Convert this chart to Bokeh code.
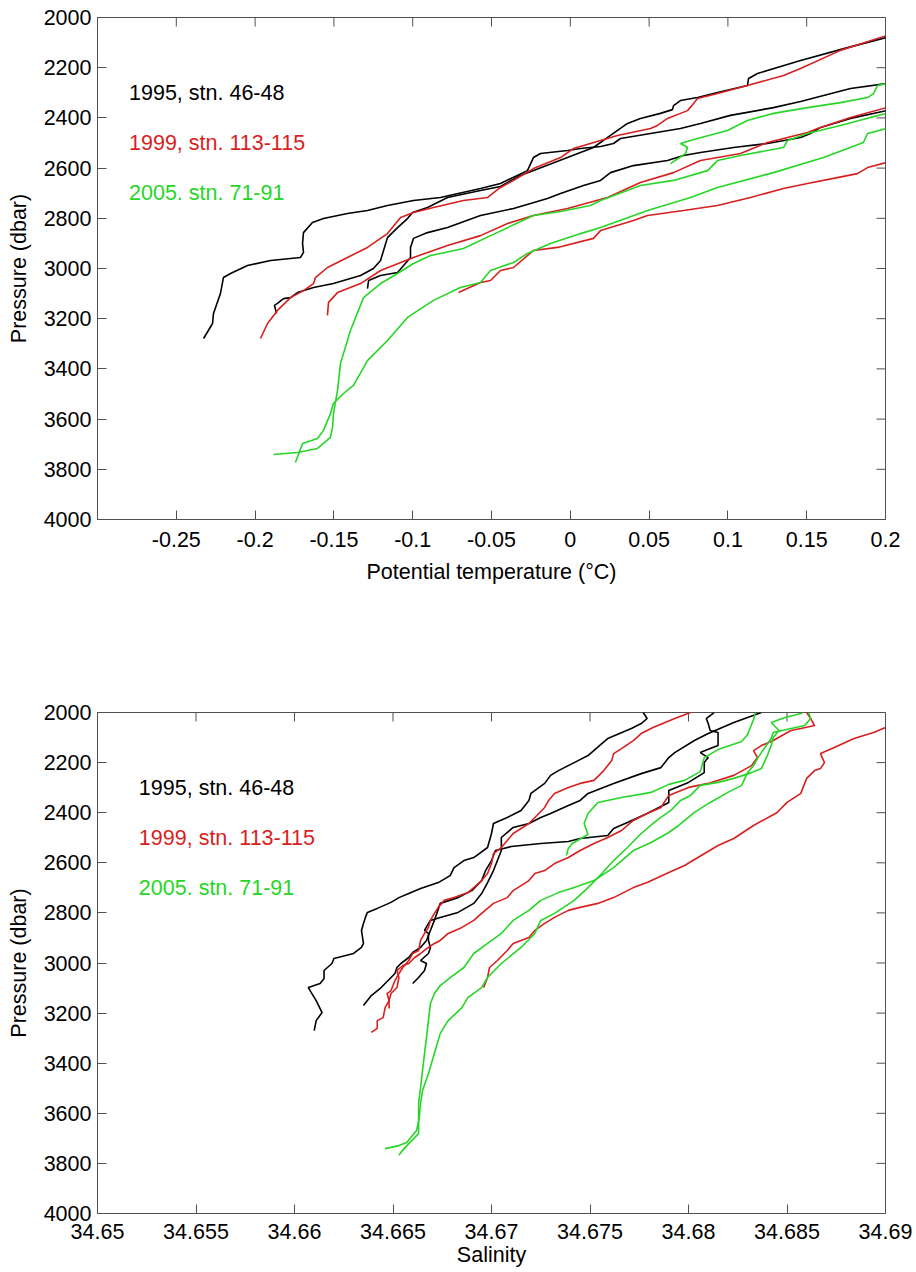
import math
from bokeh.plotting import figure
from bokeh.layouts import column
from bokeh.models import Range1d, FixedTicker, CustomJSTickFormatter
from bokeh.core.properties import value
from bokeh.embed import file_html
from bokeh.resources import INLINE

# ---------------- data ----------------
pres_ticks = [2000, 2200, 2400, 2600, 2800, 3000, 3200, 3400, 3600, 3800, 4000]
pres_tick_labels = ["2000", "2200", "2400", "2600", "2800", "3000", "3200", "3400", "3600", "3800", "4000"]
temp_ticks = [-0.25, -0.2, -0.15, -0.1, -0.05, 0.0, 0.05, 0.1, 0.15, 0.2]
temp_tick_labels = ["-0.25", "-0.2", "-0.15", "-0.1", "-0.05", "0", "0.05", "0.1", "0.15", "0.2"]
sal_ticks = [34.65, 34.655, 34.66, 34.665, 34.67, 34.675, 34.68, 34.685, 34.69]
sal_tick_labels = ["34.65", "34.655", "34.66", "34.665", "34.67", "34.675", "34.68", "34.685", "34.69"]

legend_labels = ["1995, stn. 46-48", "1999, stn. 113-115", "2005. stn. 71-91"]
legend_pres = [2300, 2500, 2700]

# --- potential temperature (deg C) profiles and their pressures (dbar) ---
th_1995_a = [-0.2327, -0.2270, -0.2264, -0.2220, -0.2201, -0.2156, -0.2048, -0.1902, -0.1712, -0.1693,
             -0.1699, -0.1693, -0.1636, -0.1566, -0.1414, -0.1287, -0.1160, -0.0995, -0.0824, -0.0570,
             -0.0443, -0.0272, -0.0234, -0.0189, -0.0018, 0.0065, 0.0192, 0.0274, 0.0319, 0.0509,
             0.0699, 0.0826, 0.1016, 0.1289, 0.1461, 0.1778, 0.2006]
pth_1995_a = [3279, 3219, 3179, 3100, 3036, 3020, 2988, 2968, 2956, 2936,
              2900, 2857, 2817, 2801, 2781, 2769, 2749, 2729, 2717, 2681,
              2661, 2610, 2558, 2542, 2530, 2522, 2514, 2502, 2482, 2462,
              2442, 2422, 2390, 2359, 2335, 2283, 2263]
th_1995_b = [-0.1864, -0.1877, -0.1858, -0.1820, -0.1775, -0.1731, -0.1629, -0.1503, -0.1331, -0.1249,
             -0.1204, -0.1185, -0.1160, -0.1096, -0.1033, -0.1001, -0.0906, -0.0779, -0.0570, -0.0443,
             -0.0316, -0.0018, 0.0147, 0.0255, 0.0363, 0.0445, 0.0572, 0.0648, 0.0655, 0.0699,
             0.0807, 0.0934, 0.1124, 0.1131, 0.1188, 0.1461, 0.1759, 0.2006]
pth_1995_b = [3179, 3147, 3139, 3120, 3116, 3096, 3076, 3060, 3028, 3000,
              2968, 2928, 2877, 2837, 2801, 2777, 2757, 2717, 2689, 2673,
              2629, 2558, 2518, 2470, 2422, 2402, 2382, 2367, 2351, 2331,
              2319, 2299, 2271, 2243, 2223, 2171, 2120, 2080]
th_1995_c = [-0.1287, -0.1280, -0.1204, -0.1096, -0.1014, -0.1014, -0.0995, -0.0906, -0.0779, -0.0570,
             -0.0360, -0.0145, -0.0062, 0.0084, 0.0192, 0.0255, 0.0401, 0.0617, 0.0718, 0.0826,
             0.1036, 0.1251, 0.1461, 0.1524, 0.1588, 0.1778, 0.2006]
pth_1995_c = [3080, 3048, 3028, 3016, 2956, 2916, 2880, 2857, 2837, 2789,
              2761, 2721, 2701, 2669, 2649, 2618, 2590, 2570, 2550, 2538,
              2518, 2502, 2478, 2462, 2438, 2402, 2371]

th_1999_a = [-0.1966, -0.1921, -0.1858, -0.1775, -0.1693, -0.1629, -0.1617, -0.1541, -0.1414, -0.1287,
             -0.1160, -0.1077, -0.0995, -0.0868, -0.0678, -0.0525, -0.0443, -0.0360, -0.0234, -0.0062,
             0.0020, 0.0192, 0.0299, 0.0509, 0.0553, 0.0617, 0.0744, 0.0782, 0.0807, 0.0934,
             0.1124, 0.1353, 0.1461, 0.1714, 0.2006]
pth_1999_a = [3279, 3219, 3167, 3116, 3088, 3060, 3036, 2996, 2956, 2916,
              2861, 2797, 2777, 2757, 2729, 2717, 2677, 2649, 2602, 2558,
              2522, 2490, 2470, 2442, 2430, 2402, 2371, 2343, 2323, 2303,
              2271, 2231, 2203, 2131, 2072]
th_1999_b = [-0.1541, -0.1534, -0.1477, -0.1331, -0.1204, -0.0995, -0.0779, -0.0570, -0.0398, -0.0234,
             -0.0018, 0.0236, 0.0445, 0.0655, 0.0826, 0.1080, 0.1251, 0.1505, 0.1569, 0.1778, 0.2006]
pth_1999_b = [3187, 3135, 3096, 3060, 3008, 2956, 2908, 2869, 2821, 2789,
              2761, 2717, 2657, 2618, 2570, 2542, 2498, 2458, 2442, 2398, 2359]
th_1999_c = [-0.0709, -0.0570, -0.0506, -0.0443, -0.0360, -0.0234, -0.0081, 0.0147, 0.0192, 0.0401,
             0.0490, 0.0718, 0.0934, 0.1143, 0.1353, 0.1505, 0.1670, 0.1822, 0.1886, 0.2006]
pth_1999_c = [3096, 3056, 3048, 3008, 2996, 2928, 2916, 2880, 2849, 2809,
              2789, 2769, 2749, 2717, 2681, 2661, 2641, 2622, 2598, 2578]

th_2005_a = [-0.1883, -0.1731, -0.1604, -0.1522, -0.1509, -0.1503, -0.1477, -0.1458, -0.1395, -0.1312,
             -0.1204, -0.1096, -0.0995, -0.0887, -0.0824, -0.0678, -0.0506, -0.0234, -0.0062, 0.0128,
             0.0192, 0.0445, 0.0655, 0.0871, 0.0934, 0.1080, 0.1353, 0.1378, 0.1505, 0.1714,
             0.1905, 0.2006]
pth_2005_a = [3741, 3733, 3717, 3673, 3633, 3578, 3486, 3378, 3247, 3116,
              3060, 3020, 2980, 2948, 2940, 2920, 2869, 2789, 2773, 2749,
              2729, 2669, 2649, 2610, 2570, 2550, 2518, 2490, 2462, 2430,
              2398, 2382]
th_2005_b = [-0.1744, -0.1699, -0.1604, -0.1566, -0.1522, -0.1503, -0.1439, -0.1376, -0.1287, -0.1160,
             -0.1033, -0.0868, -0.0697, -0.0570, -0.0506, -0.0360, -0.0272, -0.0126, 0.0065, 0.0192,
             0.0490, 0.0763, 0.0934, 0.1289, 0.1607, 0.1860, 0.1886, 0.2006]
pth_2005_b = [3773, 3697, 3677, 3645, 3578, 3538, 3498, 3466, 3367, 3287,
              3195, 3127, 3076, 3056, 3008, 2976, 2940, 2900, 2861, 2837,
              2769, 2717, 2677, 2618, 2558, 2498, 2462, 2442]
th_2005_c = [0.0636, 0.0731, 0.0744, 0.0699, 0.0807, 0.0997, 0.1124, 0.1289, 0.1505, 0.1714,
             0.1886, 0.1924, 0.1949, 0.2006]
pth_2005_c = [2582, 2542, 2518, 2502, 2482, 2450, 2410, 2382, 2359, 2339,
              2319, 2303, 2271, 2263]

# --- salinity profiles and their pressures (dbar) ---
sal_1995_a = [34.6610, 34.6611, 34.6614, 34.6611, 34.6607, 34.6613, 34.6615, 34.6615, 34.6619, 34.6620,
              34.6626, 34.6630, 34.6634, 34.6635, 34.6634, 34.6635, 34.6636, 34.6637, 34.6642, 34.6649,
              34.6653, 34.6658, 34.6664, 34.6673, 34.6679, 34.6681, 34.6686, 34.6691, 34.6698, 34.6700,
              34.6701, 34.6708, 34.6715, 34.6719, 34.6720, 34.6727, 34.6730, 34.6734, 34.6742, 34.6749,
              34.6756, 34.6759, 34.6771, 34.6776, 34.6779, 34.6777]
psal_1995_a = [3270, 3230, 3198, 3150, 3098, 3082, 3062, 3030, 3002, 2982,
               2970, 2962, 2938, 2922, 2870, 2842, 2818, 2798, 2782, 2758,
               2739, 2723, 2703, 2679, 2651, 2619, 2591, 2579, 2539, 2483,
               2443, 2419, 2391, 2351, 2323, 2283, 2251, 2232, 2200, 2172,
               2124, 2104, 2064, 2044, 2024, 2000]
sal_1995_b = [34.6635, 34.6639, 34.6644, 34.6651, 34.6652, 34.6654, 34.6658, 34.6660, 34.6664, 34.6667,
              34.6669, 34.6671, 34.6674, 34.6683, 34.6690, 34.6695, 34.6697, 34.6700, 34.6702, 34.6710,
              34.6725, 34.6739, 34.6745, 34.6759, 34.6762, 34.6769, 34.6779, 34.6790, 34.6790, 34.6800,
              34.6808, 34.6808, 34.6810, 34.6806, 34.6811, 34.6815, 34.6815, 34.6815, 34.6811, 34.6810,
              34.6809, 34.6813]
psal_1995_b = [3170, 3130, 3098, 3042, 3018, 3002, 2978, 2958, 2938, 2910,
               2870, 2830, 2762, 2739, 2711, 2671, 2631, 2591, 2551, 2535,
               2523, 2515, 2503, 2491, 2463, 2439, 2403, 2359, 2311, 2279,
               2240, 2200, 2180, 2160, 2144, 2132, 2104, 2080, 2072, 2044,
               2024, 2000]
sal_1995_c = [34.6660, 34.6663, 34.6666, 34.6667, 34.6664, 34.6668, 34.6669, 34.6668, 34.6668, 34.6666,
              34.6668, 34.6669, 34.6674, 34.6683, 34.6691, 34.6695, 34.6698, 34.6701, 34.6703, 34.6705,
              34.6705, 34.6711, 34.6719, 34.6725, 34.6730, 34.6739, 34.6745, 34.6749, 34.6762, 34.6776,
              34.6786, 34.6790, 34.6793, 34.6803, 34.6810, 34.6823, 34.6830, 34.6837]
psal_1995_c = [3082, 3058, 3030, 3002, 2990, 2962, 2938, 2910, 2882, 2870,
               2842, 2830, 2818, 2798, 2762, 2723, 2679, 2631, 2591, 2551,
               2499, 2459, 2443, 2419, 2403, 2371, 2351, 2323, 2283, 2244,
               2220, 2180, 2160, 2112, 2084, 2040, 2020, 2000]

sal_1999_a = [34.6639, 34.6642, 34.6642, 34.6645, 34.6646, 34.6648, 34.6647, 34.6649, 34.6651, 34.6653,
              34.6655, 34.6658, 34.6660, 34.6663, 34.6664, 34.6666, 34.6668, 34.6669, 34.6671, 34.6673,
              34.6676, 34.6681, 34.6688, 34.6691, 34.6695, 34.6698, 34.6700, 34.6701, 34.6705, 34.6708,
              34.6711, 34.6719, 34.6722, 34.6727, 34.6729, 34.6732, 34.6739, 34.6745, 34.6752, 34.6757,
              34.6761, 34.6762, 34.6766, 34.6772, 34.6776, 34.6782, 34.6793, 34.6801]
psal_1999_a = [3277, 3261, 3230, 3218, 3178, 3150, 3122, 3110, 3070, 3042,
               3018, 2990, 2962, 2950, 2910, 2882, 2858, 2830, 2802, 2778,
               2750, 2739, 2719, 2699, 2671, 2643, 2603, 2563, 2539, 2511,
               2483, 2443, 2419, 2379, 2351, 2323, 2299, 2283, 2271, 2232,
               2192, 2164, 2144, 2112, 2084, 2060, 2024, 2000]
sal_1999_b = [34.6648, 34.6648, 34.6649, 34.6652, 34.6653, 34.6652, 34.6655, 34.6658, 34.6661, 34.6664,
              34.6668, 34.6671, 34.6674, 34.6678, 34.6685, 34.6691, 34.6695, 34.6701, 34.6708, 34.6711,
              34.6719, 34.6722, 34.6727, 34.6732, 34.6739, 34.6745, 34.6752, 34.6759, 34.6766, 34.6772,
              34.6779, 34.6786, 34.6790, 34.6800, 34.6810, 34.6823, 34.6832, 34.6835, 34.6833, 34.6837,
              34.6843, 34.6852, 34.6857, 34.6864, 34.6862, 34.6860]
psal_1999_b = [3182, 3150, 3122, 3098, 3058, 3030, 3010, 3002, 2978, 2962,
               2938, 2922, 2910, 2882, 2858, 2830, 2802, 2762, 2739, 2711,
               2671, 2643, 2631, 2603, 2579, 2551, 2523, 2499, 2471, 2431,
               2403, 2379, 2331, 2299, 2283, 2251, 2212, 2180, 2152, 2132,
               2112, 2072, 2064, 2052, 2024, 2000]
sal_1999_c = [34.6696, 34.6698, 34.6699, 34.6703, 34.6708, 34.6711, 34.6719, 34.6722, 34.6727, 34.6732,
              34.6739, 34.6745, 34.6754, 34.6762, 34.6772, 34.6779, 34.6790, 34.6798, 34.6815, 34.6823,
              34.6833, 34.6845, 34.6850, 34.6857, 34.6860, 34.6864, 34.6867, 34.6869, 34.6867, 34.6874,
              34.6884, 34.6894, 34.6900]
psal_1999_c = [3098, 3058, 3018, 2990, 2950, 2922, 2898, 2870, 2842, 2818,
               2790, 2778, 2762, 2739, 2699, 2679, 2639, 2611, 2531, 2503,
               2451, 2399, 2359, 2323, 2263, 2232, 2224, 2200, 2164, 2140,
               2104, 2080, 2060]

sal_2005_a = [34.6646, 34.6653, 34.6657, 34.6659, 34.6662, 34.6663, 34.6663, 34.6664, 34.6665, 34.6666,
              34.6667, 34.6668, 34.6669, 34.6671, 34.6674, 34.6679, 34.6686, 34.6691, 34.6698, 34.6705,
              34.6711, 34.6719, 34.6725, 34.6734, 34.6742, 34.6752, 34.6762, 34.6772, 34.6781, 34.6790,
              34.6795, 34.6803, 34.6811, 34.6820, 34.6827, 34.6830, 34.6833, 34.6835, 34.6837, 34.6842,
              34.6843, 34.6852, 34.6859, 34.6862, 34.6861]
psal_2005_a = [3741, 3729, 3717, 3697, 3669, 3629, 3561, 3497, 3429, 3361,
               3297, 3230, 3162, 3122, 3090, 3058, 3018, 2962, 2922, 2882,
               2830, 2790, 2750, 2719, 2699, 2671, 2619, 2551, 2519, 2479,
               2451, 2399, 2359, 2319, 2291, 2240, 2212, 2184, 2160, 2104,
               2080, 2064, 2052, 2024, 2000]
sal_2005_b = [34.6653, 34.6654, 34.6657, 34.6661, 34.6663, 34.6663, 34.6664, 34.6665, 34.6668, 34.6671,
              34.6674, 34.6678, 34.6685, 34.6688, 34.6695, 34.6698, 34.6705, 34.6715, 34.6722, 34.6725,
              34.6732, 34.6742, 34.6749, 34.6756, 34.6762, 34.6769, 34.6776, 34.6782, 34.6786, 34.6791,
              34.6796, 34.6801, 34.6806, 34.6815, 34.6823, 34.6832, 34.6837, 34.6840, 34.6842, 34.6843,
              34.6846, 34.6842, 34.6849, 34.6857, 34.6858]
psal_2005_b = [3768, 3756, 3729, 3697, 3681, 3641, 3561, 3509, 3441, 3361,
               3281, 3230, 3178, 3138, 3098, 3058, 3002, 2938, 2882, 2830,
               2802, 2750, 2699, 2643, 2591, 2539, 2483, 2443, 2419, 2391,
               2351, 2331, 2291, 2279, 2263, 2240, 2224, 2172, 2132, 2100,
               2072, 2040, 2020, 2004, 2000]
sal_2005_c = [34.6738, 34.6739, 34.6741, 34.6749, 34.6747, 34.6749, 34.6754, 34.6766, 34.6781, 34.6790,
              34.6798, 34.6806, 34.6808, 34.6815, 34.6827, 34.6830, 34.6833, 34.6834]
psal_2005_c = [2571, 2543, 2523, 2487, 2443, 2403, 2359, 2339, 2319, 2287,
               2271, 2236, 2180, 2148, 2116, 2088, 2028, 2000]

# ---------------- styling ----------------
FONT = "Liberation Sans"
FS = "21.5px"
AX = "#505050"
C95, C99, C05 = "#000000", "#d81f1f", "#26d626"
LW = 1.6
FIG_W = 914


def label_formatter(vals, labs):
    return CustomJSTickFormatter(args=dict(vals=vals, labs=labs), code="""
        let best = 0, bd = Infinity;
        for (let i = 0; i < vals.length; i++) {
            const d = Math.abs(vals[i] - tick);
            if (d < bd) { bd = d; best = i; }
        }
        return labs[best];
    """)


def make_panel(height, left, frame_w, top, bottom, xr, xticks, xlabels, xtitle,
               tick_sd, title_sd, profiles, text_x):
    p = figure(width=FIG_W, height=height, output_backend="svg", toolbar_location=None,
               x_range=Range1d(*xr), y_range=Range1d(4000, 2000),
               min_border_left=left, min_border_right=FIG_W - left - frame_w,
               min_border_top=top, min_border_bottom=bottom)
    p.background_fill_color = "white"
    p.border_fill_color = "white"
    p.outline_line_color = AX
    p.outline_line_width = 1
    p.xgrid.grid_line_color = None
    p.ygrid.grid_line_color = None

    xa, ya = p.xaxis[0], p.yaxis[0]
    xa.ticker = FixedTicker(ticks=xticks)
    xa.formatter = label_formatter(xticks, xlabels)
    ya.ticker = FixedTicker(ticks=pres_ticks)
    ya.formatter = label_formatter(pres_ticks, pres_tick_labels)
    xa.axis_label = xtitle
    ya.axis_label = "Pressure (dbar)"
    xa.major_label_standoff = tick_sd
    xa.axis_label_standoff = title_sd
    ya.major_label_standoff = 6
    ya.axis_label_standoff = 10
    for ax in (xa, ya):
        ax.axis_line_color = AX
        ax.major_tick_line_color = AX
        ax.major_tick_in = 9
        ax.major_tick_out = 0
        ax.minor_tick_line_color = None
        ax.major_label_text_font = FONT
        ax.major_label_text_font_size = FS
        ax.major_label_text_color = "#000000"
        ax.axis_label_text_font = FONT
        ax.axis_label_text_font_size = FS
        ax.axis_label_text_font_style = "normal"
        ax.axis_label_text_color = "#000000"

    # inward tick marks on the top and right frame edges (MATLAB box style)
    p.scatter(x=xticks, y=[pres_ticks[0]] * len(xticks), marker="dash", size=18,
              angle=math.pi / 2, line_color=AX, line_width=1)
    p.scatter(x=[xr[1]] * len(pres_ticks), y=pres_ticks, marker="dash", size=18,
              line_color=AX, line_width=1)

    for xs, ps, col in profiles:
        p.line(xs, ps, line_color=col, line_width=LW)

    p.text(x=[text_x] * 3, y=legend_pres, text=legend_labels,
           text_color=[C95, C99, C05], text_font=value(FONT), text_font_size=FS,
           text_baseline="middle", text_align="left")
    return p


top_profiles = [
    (th_1995_a, pth_1995_a, C95), (th_1995_b, pth_1995_b, C95), (th_1995_c, pth_1995_c, C95),
    (th_1999_a, pth_1999_a, C99), (th_1999_b, pth_1999_b, C99), (th_1999_c, pth_1999_c, C99),
    (th_2005_a, pth_2005_a, C05), (th_2005_b, pth_2005_b, C05), (th_2005_c, pth_2005_c, C05),
]
bot_profiles = [
    (sal_1995_a, psal_1995_a, C95), (sal_1995_b, psal_1995_b, C95), (sal_1995_c, psal_1995_c, C95),
    (sal_1999_a, psal_1999_a, C99), (sal_1999_b, psal_1999_b, C99), (sal_1999_c, psal_1999_c, C99),
    (sal_2005_a, psal_2005_a, C05), (sal_2005_b, psal_2005_b, C05), (sal_2005_c, psal_2005_c, C05),
]

# page has no margin: top frame spans x 97-885, y 17-519; bottom frame x 96-885, y 712-1213
p1 = make_panel(699, 97, 788, 17, 180, (-0.3, 0.2), temp_ticks, temp_tick_labels,
                "Potential temperature (\u00b0C)", 12, 10, top_profiles, -0.28)
p2 = make_panel(572, 96, 789, 13, 58, (34.65, 34.69), sal_ticks, sal_tick_labels,
                "Salinity", 10, 1, bot_profiles, 34.6521)

layout = column(p1, p2)
open("out.html", "w").write(file_html(layout, INLINE))
